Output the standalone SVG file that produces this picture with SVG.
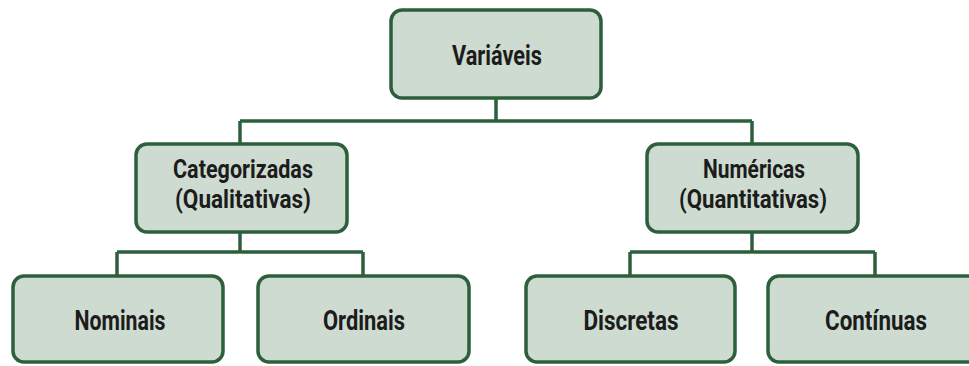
<svg xmlns="http://www.w3.org/2000/svg" width="969" height="366" viewBox="0 0 969 366">
<style>
.box{fill:#cddbd1;stroke:#2d5f3c;stroke-width:3.5}
.lbl{font-family:Roboto,"Liberation Sans",sans-serif;font-weight:bold;font-size:28px;fill:#1c1c1c;text-anchor:middle}
.two{font-size:25.5px}
.c{stroke:#2d5f3c;stroke-width:3.5;fill:none}
</style>
<rect width="969" height="366" fill="#ffffff"/>
<g id="connectors">
<path class="c" d="M496,98 V121 M240,121 H752 M240,121 V144 M752,121 V144"/>
<path class="c" d="M240,232 V252 M117,252 H363 M117,252 V276 M363,252 V276"/>
<path class="c" d="M752,232 V252 M630,252 H875 M630,252 V276 M875,252 V276"/>
</g>
<g id="variaveis">
<rect class="box" x="391" y="10" width="210" height="88" rx="11"/>
<text class="lbl" x="497" y="65" textLength="90" lengthAdjust="spacingAndGlyphs">Variáveis</text>
</g>
<g id="categorizadas">
<rect class="box" x="136" y="144" width="211" height="88" rx="11"/>
<text class="lbl two" x="243" y="178" textLength="140" lengthAdjust="spacingAndGlyphs">Categorizadas</text>
<text class="lbl two" x="243" y="208" textLength="136" lengthAdjust="spacingAndGlyphs">(Qualitativas)</text>
</g>
<g id="numericas">
<rect class="box" x="647" y="144" width="211" height="88" rx="11"/>
<text class="lbl two" x="754" y="178" textLength="102" lengthAdjust="spacingAndGlyphs">Numéricas</text>
<text class="lbl two" x="753" y="208" textLength="148" lengthAdjust="spacingAndGlyphs">(Quantitativas)</text>
</g>
<g id="nominais">
<rect class="box" x="13" y="276" width="210" height="86" rx="11"/>
<text class="lbl" x="120" y="330" textLength="91" lengthAdjust="spacingAndGlyphs">Nominais</text>
</g>
<g id="ordinais">
<rect class="box" x="258" y="276" width="211" height="86" rx="11"/>
<text class="lbl" x="364" y="330" textLength="82" lengthAdjust="spacingAndGlyphs">Ordinais</text>
</g>
<g id="discretas">
<rect class="box" x="526" y="276" width="209" height="86" rx="11"/>
<text class="lbl" x="631" y="330" textLength="95" lengthAdjust="spacingAndGlyphs">Discretas</text>
</g>
<g id="continuas">
<rect class="box" x="768" y="276" width="212" height="86" rx="11"/>
<text class="lbl" x="876" y="330" textLength="102" lengthAdjust="spacingAndGlyphs">Contínuas</text>
</g>
</svg>
